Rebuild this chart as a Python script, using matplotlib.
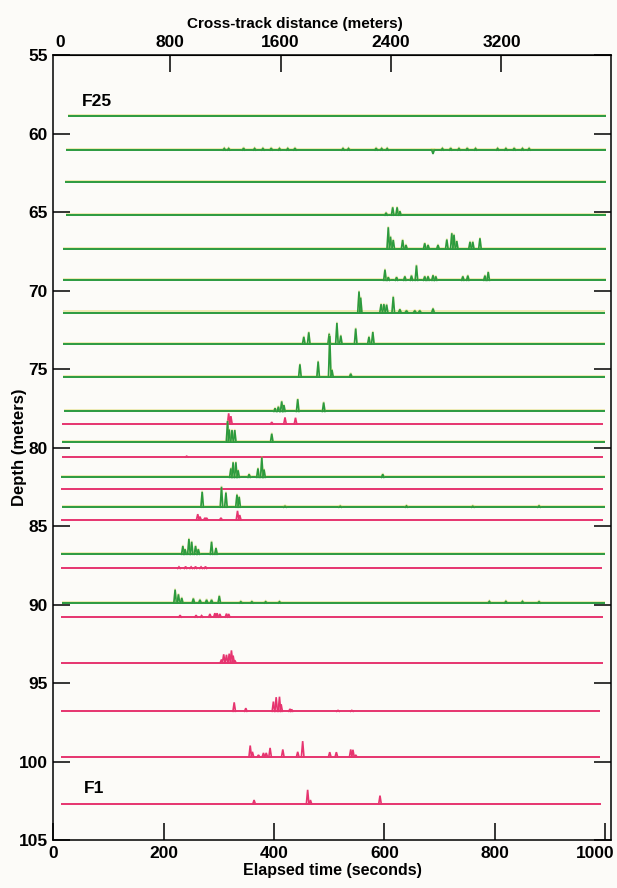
import matplotlib.pyplot as plt
import matplotlib.patheffects as pe
from matplotlib.transforms import ScaledTranslation

plt.rcParams['font.family'] = ['Liberation Sans', 'DejaVu Sans']
plt.rcParams['font.weight'] = 'bold'
plt.rcParams['axes.labelweight'] = 'bold'

GREEN = "#2b9a3f"
MAGENTA = "#e6346f"

# one trace per float, F25 (top) down to F1 (bottom)
depths = [58.9, 61.05, 63.1, 65.2, 67.35, 69.35, 71.4, 73.4, 75.5, 77.7,
          78.5, 79.65, 80.6, 81.9, 82.65, 83.8, 84.6, 86.8, 87.7, 89.9,
          90.8, 93.7, 96.8, 99.7, 102.7]
kinds = ["g", "g", "g", "g", "g", "g", "g", "g", "g", "g",
         "m", "g", "m", "g", "m", "g", "m", "g", "m", "g",
         "m", "m", "m", "m", "m"]
t_start = [27, 23, 22, 23, 18, 18, 18, 18, 18, 19,
           17, 17, 17, 14, 14, 16, 14, 14, 14, 16,
           14, 14, 14, 14, 14]
t_end = [1001, 1002, 1001, 1002, 1002, 1001, 1000, 1000, 1000, 1000,
         996, 1000, 996, 1000, 995, 1000, 995, 1000, 994, 1000,
         996, 996, 990, 990, 993]

# spike times (s) and heights (m)
peak_t = [
    [],
    [310, 318, 345, 365, 380, 395, 410, 425, 438, 525, 535, 585, 595, 605,
     688, 705, 720, 735, 750, 765, 805, 820, 835, 850, 862],
    [],
    [603, 615, 623, 628],
    [607, 611, 616, 633, 639, 673, 679, 697, 713, 722, 726, 731, 755, 760, 773],
    [601, 607, 622, 637, 649, 658, 673, 679, 688, 693, 742, 751, 782, 788],
    [554, 557, 594, 599, 604, 616, 628, 640, 655, 664, 688],
    [454, 463, 500, 514, 521, 548, 572, 579],
    [447, 480, 501, 505, 539],
    [402, 408, 414, 418, 443, 490],
    [318, 322, 396, 420, 439],
    [316, 319, 324, 329, 396],
    [242],
    [322, 326, 331, 335, 355, 371, 378, 382, 597],
    [],
    [270, 305, 313, 333, 337, 420, 520, 640, 760, 880],
    [262, 266, 275, 278, 304, 334, 338],
    [235, 239, 246, 251, 258, 263, 287, 295],
    [228, 240, 250, 258, 268, 276],
    [221, 227, 233, 254, 266, 278, 287, 301, 340, 360, 385, 410, 790, 820, 850, 880],
    [230, 259, 269, 284, 293, 297, 302, 314, 318],
    [305, 309, 314, 319, 323, 326, 329],
    [328, 349, 399, 404, 410, 413, 429, 432, 516, 541],
    [357, 361, 372, 381, 386, 393, 416, 443, 452, 501, 513, 539, 543, 548],
    [364, 461, 466, 592],
]
peak_h = [
    [],
    [0.1, 0.1, 0.12, 0.1, 0.1, 0.12, 0.1, 0.1, 0.12, 0.1, 0.1, 0.12, 0.1, 0.1,
     -0.25, 0.1, 0.12, 0.1, 0.12, 0.1, 0.1, 0.1, 0.12, 0.1, 0.1],
    [],
    [0.15, 0.5, 0.5, 0.25],
    [1.38, 0.78, 0.57, 0.57, 0.25, 0.36, 0.25, 0.25, 0.6, 1.0, 0.9, 0.5, 0.45, 0.45, 0.68],
    [0.68, 0.2, 0.2, 0.25, 0.3, 0.95, 0.25, 0.25, 0.32, 0.25, 0.25, 0.3, 0.3, 0.53],
    [1.34, 0.95, 0.53, 0.53, 0.5, 1.0, 0.2, 0.12, 0.12, 0.12, 0.25],
    [0.45, 0.74, 0.65, 1.34, 0.53, 0.98, 0.45, 0.76],
    [0.8, 0.98, 2.6, 0.45, 0.2],
    [0.2, 0.3, 0.64, 0.4, 0.78, 0.57],
    [0.68, 0.5, 0.12, 0.42, 0.4],
    [1.34, 0.8, 0.76, 0.76, 0.53],
    [0.05],
    [0.57, 0.96, 0.96, 0.45, 0.2, 0.57, 1.27, 0.5, 0.2],
    [],
    [0.98, 1.3, 0.93, 0.8, 0.66, 0.06, 0.06, 0.08, 0.06, 0.08],
    [0.36, 0.2, 0.12, 0.12, 0.12, 0.57, 0.3],
    [0.53, 0.32, 0.98, 0.8, 0.53, 0.32, 0.8, 0.4],
    [0.1, 0.12, 0.1, 0.12, 0.1, 0.12],
    [0.85, 0.55, 0.32, 0.28, 0.2, 0.2, 0.2, 0.45, 0.08, 0.08, 0.08, 0.08, 0.1, 0.1, 0.1, 0.08],
    [0.12, 0.12, 0.1, 0.2, 0.25, 0.25, 0.2, 0.22, 0.2],
    [0.2, 0.53, 0.5, 0.57, 0.78, 0.45, 0.15],
    [0.57, 0.2, 0.62, 0.9, 0.93, 0.45, 0.15, 0.12, 0.06, 0.06],
    [0.72, 0.32, 0.12, 0.25, 0.25, 0.57, 0.47, 0.32, 1.0, 0.3, 0.3, 0.47, 0.45, 0.12],
    [0.25, 0.9, 0.25, 0.53],
]

colors = {"g": GREEN, "m": MAGENTA}
# faint yellow edge on the green print
fringe = {"g": [pe.SimpleLineShadow(offset=(0, 0.8), shadow_color="#dcd660", alpha=0.45), pe.Normal()],
          "m": None}

fig = plt.figure(figsize=(6.17, 8.88), dpi=100, facecolor="#fcfbf8")
ax = fig.add_axes([0.086, 0.054, 0.904, 0.884], facecolor="#fcfbf8")

half_w = 2.3  # half width of a spike, seconds
for d, k, t0, t1, pts, hts in zip(depths, kinds, t_start, t_end, peak_t, peak_h):
    c = colors[k]
    ax.plot([t0, t1], [d, d], color=c, lw=1.4, solid_capstyle="butt",
            path_effects=fringe[k])
    for t, h in zip(pts, hts):
        ax.plot([t - half_w, t, t + half_w], [d, d - h, d], color=c, lw=1.2,
                solid_joinstyle="miter", path_effects=fringe[k])

ax.text(52, depths[0] - 0.45, "F25", fontsize=12.5, ha="left", va="bottom")
ax.text(55, depths[-1] - 0.5, "F1", fontsize=12.5, ha="left", va="bottom")

ax.set_xlim(0, 1010)
ax.set_ylim(105, 55)
ax.set_xticks([0, 200, 400, 600, 800, 1000])
ax.set_yticks(range(55, 106, 5))
ax.tick_params(axis="both", direction="in", length=12.5, width=1.1, labelsize=12.5,
               right=True, pad=4)
ax.set_xlabel("Elapsed time (seconds)", fontsize=11.5, labelpad=2)
ax.set_ylabel("Depth (meters)", fontsize=12)
ax.yaxis.set_label_coords(-0.046, 0.5)
for s in ax.spines.values():
    s.set_linewidth(1.1)

# last bottom label sits a bit left of its tick, as in the original
last = ax.get_xticklabels()[-1]
last.set_transform(last.get_transform() + ScaledTranslation(-7 / 72, 0, fig.dpi_scale_trans))

top = ax.secondary_xaxis("top", functions=(lambda t: (t - 12) * 4.0, lambda m: m / 4.0 + 12))
top.set_xticks([0, 800, 1600, 2400, 3200])
top.tick_params(direction="in", length=12.5, width=1.1, labelsize=12.5, pad=4)
zero_tick = top.xaxis.get_major_ticks()[0]
zero_tick.tick1line.set_visible(False)
zero_tick.tick2line.set_visible(False)
top.set_xlabel("Cross-track distance (meters)", fontsize=11, labelpad=5)
top.xaxis.label.set_x(0.434)

fig.savefig("out.png", dpi=100, facecolor=fig.get_facecolor())
